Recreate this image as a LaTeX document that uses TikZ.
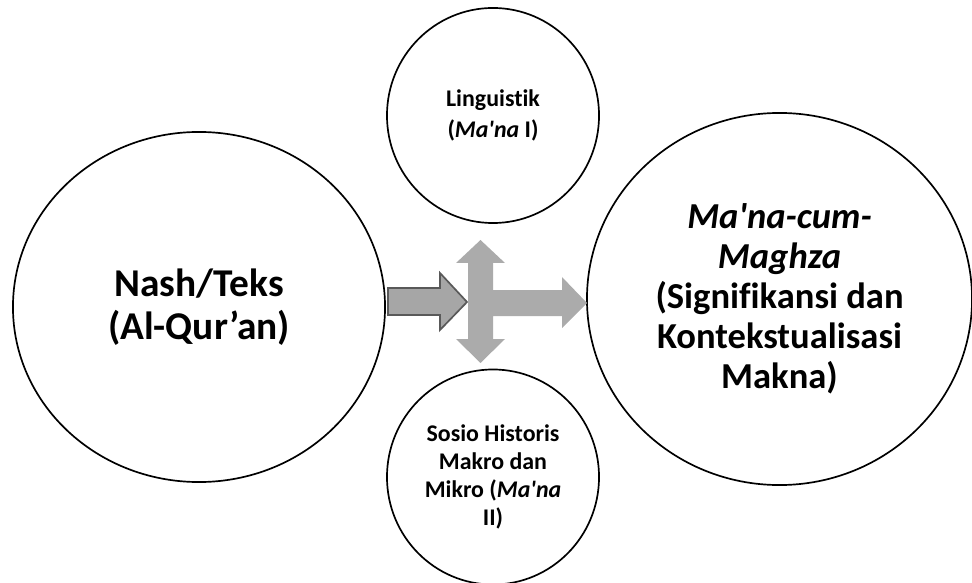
\documentclass[tikz,border=0pt]{standalone}
\usepackage{fontspec}
\setmainfont{Carlito}[Ligatures={TeX,NoCommon}]
\usetikzlibrary{shapes.geometric}
\definecolor{leftfill}{HTML}{A6A6A6}
\definecolor{leftline}{HTML}{595959}
\definecolor{crossfill}{HTML}{ABABAB}
\newcommand{\mana}{\textit{Ma\textquotesingle na}}

\begin{document}
\begin{tikzpicture}[x=0.025cm,y=-0.025cm,
  bubble/.style={draw,ellipse,line width=1.2pt,inner sep=0pt,align=center,font=\bfseries}]
\useasboundingbox (0,0) rectangle (972,583);
% circles
\node[bubble,minimum width=9.3cm,minimum height=8.75cm,
  font=\bfseries\fontsize{28}{31}\selectfont] (nash) at (199,307) {Nash/Teks\\(Al-Qur’an)};
\node[bubble,minimum width=5.3cm,minimum height=5.375cm,
  font=\bfseries\fontsize{17}{22}\selectfont] (ling) at (493,115.5) {Linguistik\\(\mana{} I)};
\node[bubble,minimum width=5.3cm,minimum height=5.375cm,
  font=\bfseries\fontsize{17}{20}\selectfont] (sosio) at (493,477) {Sosio Historis\\Makro dan\\Mikro (\mana\\II)};
\node[bubble,minimum width=9.625cm,minimum height=9.3cm,
  font=\bfseries\fontsize{26}{28.5}\selectfont] (magz) at (779.5,299)
  {\textit{Ma\textquotesingle na-cum-}\\\textit{Maghza}\\(Signifikansi dan\\Kontekstualisasi\\Makna)};
% arrows
\draw[fill=leftfill,draw=leftline,line width=1.2pt,line join=miter]
  (388,288) -- (440,288) -- (440,273) -- (467,302) -- (440,330) -- (440,315) -- (388,315) -- cycle;
\fill[crossfill]
  (456,263) -- (480.5,240) -- (505,263) -- (493,263) -- (493,290) -- (562,290) -- (562,277)
  -- (587,303) -- (562,328) -- (562,316) -- (493,316) -- (493,339) -- (505,339)
  -- (480.5,363) -- (456,339) -- (468,339) -- (468,263) -- cycle;
\end{tikzpicture}
\end{document}
